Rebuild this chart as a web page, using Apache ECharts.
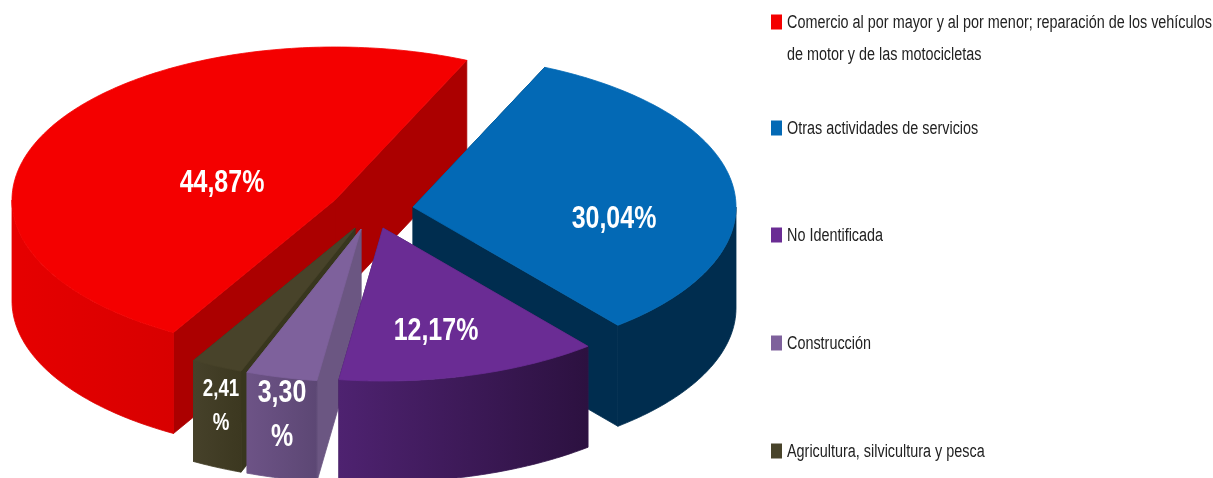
<!DOCTYPE html>
<html>
<head>
<meta charset="utf-8">
<title>Sectores</title>
<style>
  html, body { margin: 0; padding: 0; background: #fff; overflow: hidden; }
  #chart { width: 1213px; height: 478px; }
</style>
<script src="https://cdn.jsdelivr.net/npm/echarts@6/dist/echarts.min.js"></script>
</head>
<body>
<div id="chart"></div>
<script>
const names = [
  "Comercio al por mayor y al por menor; reparación de los vehículos\nde motor y de las motocicletas",
  "Otras actividades de servicios",
  "No Identificada",
  "Construcción",
  "Agricultura, silvicultura y pesca",
];
const shares = [44.87, 30.04, 12.17, 3.3, 2.41];

const topColors = ["#f40000", "#0369b5", "#6a2c94", "#7e619c", "#48432a"];
const faceColors = ["#ab0000", "#002d4f", "#3a1a55", "#6b5682", "#38361e"];
const wallFrom = ["#e60000", "#002d4f", "#4e2270", "#6d5386", "#46412a"];
const wallTo = ["#d80000", "#002d4f", "#2c1140", "#5c4774", "#3c3820"];

// layout of the exploded pie
const RX = 323;
const RY = 153;
const DEPTH = 101;
const START_DEG = 120;
const apex = [[335, 200], [413, 207], [383, 228], [361, 229], [355, 228]];
const labelAt = [[222, 183], [614, 219], [436, 331], [282, 415], [221, 406]];
const labelSize = [32, 32, 32, 32, 24];
const labelLine = [32, 32, 32, 44, 34];
const wrapLabel = [false, false, false, true, true];
const drawOrder = [1, 2, 5, 4, 3];

const legendCenter = [22, 128, 235, 343, 451];
const LEGEND_LINE = 32;
const FONT = "Liberation Sans";

const total = shares.reduce((a, b) => a + b, 0);

function startOf(i) {
  let t0 = START_DEG;
  for (let k = 0; k < i; k++) t0 += (shares[k] / total) * 360;
  return t0;
}

function rimPoint(i, deg, drop) {
  const a = (deg * Math.PI) / 180;
  return [
    apex[i][0] + RX * Math.cos(a),
    apex[i][1] + RY * Math.sin(a) + (drop || 0),
  ];
}

function arcPoints(i, from, to, drop) {
  const pts = [];
  const steps = Math.max(2, Math.ceil(Math.abs(to - from)));
  for (let s = 0; s <= steps; s++) {
    pts.push(rimPoint(i, from + ((to - from) * s) / steps, drop));
  }
  return pts;
}

// stroke in the fill colour so neighbouring polygons leave no seam
function poly(points, fill) {
  return {
    type: "polygon",
    shape: { points: points },
    style: { fill: fill, stroke: fill, lineWidth: 0.8 },
  };
}

function faceFor(i, deg) {
  const c = apex[i];
  const a = rimPoint(i, deg, 0);
  const b = rimPoint(i, deg, DEPTH);
  return { y: a[1], el: poly([c, a, b, [c[0], c[1] + DEPTH]], faceColors[i]) };
}

// outer wall only where the rim faces the viewer
function outerWalls(i, t0, t1) {
  const out = [];
  for (let turn = -360; turn <= 360; turn += 360) {
    const from = Math.max(t0, turn);
    const to = Math.min(t1, turn + 180);
    if (to <= from) continue;
    const rimTop = arcPoints(i, from, to, 0);
    const rimBottom = arcPoints(i, from, to, DEPTH).reverse();
    const xs = rimTop.map((p) => p[0]);
    const left = Math.min.apply(null, xs);
    const right = Math.max.apply(null, xs);
    const fill = new echarts.graphic.LinearGradient(left, 0, right, 0, [
      { offset: 0, color: wallFrom[i] },
      { offset: 1, color: wallTo[i] },
    ], true);
    out.push(poly(rimTop.concat(rimBottom), fill));
  }
  return out;
}

function renderSlice(i, params, api) {
  const value = api.value(0);
  const t0 = startOf(i);
  const t1 = t0 + (value / total) * 360;

  const faces = [faceFor(i, t0), faceFor(i, t1)]
    .sort((a, b) => a.y - b.y)
    .map((f) => f.el);
  const top = poly([apex[i]].concat(arcPoints(i, t0, t1, 0)), topColors[i]);

  const num = value.toFixed(2).replace(".", ",");
  const label = {
    type: "text",
    x: labelAt[i][0],
    y: labelAt[i][1],
    scaleX: 0.78,
    style: {
      text: wrapLabel[i] ? num + "\n%" : num + "%",
      fill: "#fff",
      align: "center",
      verticalAlign: "middle",
      fontFamily: FONT,
      fontWeight: "bold",
      fontSize: labelSize[i],
      lineHeight: labelLine[i],
    },
  };

  return {
    type: "group",
    children: faces.concat(outerWalls(i, t0, t1), [top, label]),
  };
}

const chart = echarts.init(document.getElementById("chart"));

chart.setOption({
  animation: false,
  backgroundColor: "#fff",
  // swatches come from the legend; their text is narrowed below, which legend text cannot do
  legend: names.map((name, i) => ({
    data: [name],
    left: 771,
    top: legendCenter[i] - 8,
    padding: 0,
    icon: "rect",
    itemWidth: 11,
    itemHeight: 15,
    selectedMode: false,
    formatter: () => " ",
    textStyle: { fontSize: 12, lineHeight: 16 },
  })),
  graphic: {
    elements: names.map((name, i) => ({
      type: "text",
      x: 787,
      y: legendCenter[i] - LEGEND_LINE / 2 + 1,
      scaleX: 0.8,
      silent: true,
      style: {
        text: name,
        fill: "#222",
        fontFamily: FONT,
        fontSize: 18,
        lineHeight: LEGEND_LINE,
        verticalAlign: "top",
      },
    })),
  },
  series: names.map((name, i) => ({
    type: "custom",
    name: name,
    coordinateSystem: "none",
    silent: true,
    z: drawOrder[i],
    itemStyle: { color: topColors[i] },
    data: [[shares[i]]],
    renderItem: (params, api) => renderSlice(i, params, api),
  })),
});

window.addEventListener("resize", () => chart.resize());
</script>
</body>
</html>
